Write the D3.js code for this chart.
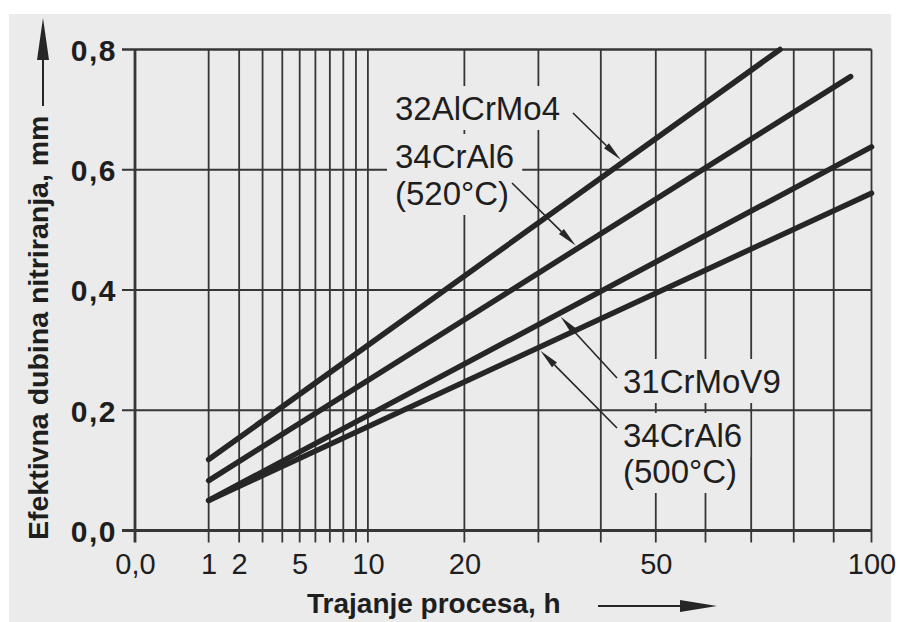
<!DOCTYPE html>
<html>
<head>
<meta charset="utf-8">
<script src="https://cdn.jsdelivr.net/npm/d3@7"></script>
<style>
  html, body { margin: 0; padding: 0; background: #ffffff; }
  svg { display: block; }
  text { font-family: "Liberation Sans", Arial, Helvetica, sans-serif; fill: #1e1e1e; }
</style>
</head>
<body>
<svg id="chart" width="900" height="622"></svg>
<script>
// ---------------- data ----------------
const xGridHours = [0, 1, 2, 3, 4, 5, 6, 7, 8, 9, 10, 20, 30, 40, 50, 60, 70, 80, 90, 100];
const xTickHours = [0, 1, 2, 5, 10, 20, 50, 100];
const xTickLabels = ["0,0", "1", "2", "5", "10", "20", "50", "100"];
const yTickValues = [0, 0.2, 0.4, 0.6, 0.8];
const yTickLabels = ["0,0", "0,2", "0,4", "0,6", "0,8"];

const seriesNames = ["32AlCrMo4", "34CrAl6 (520°C)", "31CrMoV9", "34CrAl6 (500°C)"];
const hours32AlCrMo4 = [1, 76.7];
const depth32AlCrMo4 = [0.118, 0.8];
const hours34CrAl6_520 = [1, 94.4];
const depth34CrAl6_520 = [0.083, 0.755];
const hours31CrMoV9 = [1, 100];
const depth31CrMoV9 = [0.05, 0.638];
const hours34CrAl6_500 = [1, 100];
const depth34CrAl6_500 = [0.05, 0.561];

const xTitle = "Trajanje procesa, h";
const yTitle = "Efektivna dubina nitriranja, mm";

// ---------------- setup ----------------
const svg = d3.select("#chart");
const W = 900, H = 622;
const bg = "#ebebeb";
const ink = "#262626";

svg.append("rect").attr("x", 9).attr("y", 14).attr("width", 882).attr("height", H - 14).attr("fill", bg);

const x = d3.scaleSqrt().domain([0, 100]).range([135, 871.5]);
const y = d3.scaleLinear().domain([0, 0.8]).range([530.5, 49.5]);

const series = [
  { name: seriesNames[0], h: hours32AlCrMo4, d: depth32AlCrMo4 },
  { name: seriesNames[1], h: hours34CrAl6_520, d: depth34CrAl6_520 },
  { name: seriesNames[2], h: hours31CrMoV9, d: depth31CrMoV9 },
  { name: seriesNames[3], h: hours34CrAl6_500, d: depth34CrAl6_500 }
].map(s => ({ name: s.name, pts: s.h.map((h, i) => ({ h, v: s.d[i] })) }));

// ---------------- grid ----------------
const grid = svg.append("g");
grid.selectAll("line.v").data(xGridHours).join("line")
  .attr("x1", d => x(d)).attr("x2", d => x(d))
  .attr("y1", y(0.8)).attr("y2", y(0) + 12)
  .attr("stroke", "#363636").attr("stroke-width", d => d === 0 ? 2.8 : 1.8);
grid.selectAll("line.h").data(yTickValues).join("line")
  .attr("x1", x(0) - 13).attr("x2", x(100))
  .attr("y1", d => y(d)).attr("y2", d => y(d))
  .attr("stroke", "#363636").attr("stroke-width", d => d === 0 ? 3 : (d === 0.8 ? 2.3 : 1.8));

// axes tick labels via d3 axes (domain hidden)
const xAxis = d3.axisBottom(x).tickValues(xTickHours).tickSize(0).tickPadding(0)
  .tickFormat((d, i) => xTickLabels[i]);
const gx = svg.append("g").attr("transform", `translate(0,${y(0)})`).call(xAxis);
gx.select(".domain").remove();
gx.selectAll("text").attr("y", 43).attr("dy", 0)
  .style("font-size", "29px").style("font-family", '"Liberation Sans", Arial, sans-serif')
  .attr("fill", "#333");

const yAxis = d3.axisLeft(y).tickValues(yTickValues).tickSize(0).tickPadding(0)
  .tickFormat((d, i) => yTickLabels[i]);
const gy = svg.append("g").attr("transform", `translate(${x(0)},0)`).call(yAxis);
gy.select(".domain").remove();
gy.selectAll("text").attr("x", -18).attr("dy", "0.36em")
  .style("font-size", "30px").style("font-weight", "bold").style("letter-spacing", "1.5px")
  .style("font-family", '"Liberation Sans", Arial, sans-serif')
  .attr("fill", "#333");

// ---------------- labels (masks first) ----------------
const maskLayer = svg.append("g");
const lineLayer = svg.append("g");
const textLayer = svg.append("g");

const labelLines = [
  { text: "32AlCrMo4", x: 395, y: 120 },
  { text: "34CrAl6", x: 395, y: 168 },
  { text: "(520°C)", x: 395, y: 205 },
  { text: "31CrMoV9", x: 623, y: 393 },
  { text: "34CrAl6", x: 623, y: 447 },
  { text: "(500°C)", x: 623, y: 483 }
];
labelLines.forEach(l => {
  const t = textLayer.append("text").attr("x", l.x).attr("y", l.y)
    .style("font-size", "33px").attr("fill", "#222").text(l.text);
  const b = t.node().getBBox();
  maskLayer.append("rect").attr("x", b.x - 8).attr("y", b.y - 4)
    .attr("width", b.width + 16).attr("height", b.height + 7).attr("fill", bg);
});

// ---------------- series lines ----------------
const lineGen = d3.line().x(d => x(d.h)).y(d => y(d.v));
lineLayer.selectAll("path").data(series).join("path")
  .attr("d", d => lineGen(d.pts))
  .attr("fill", "none").attr("stroke", ink).attr("stroke-width", 5.5)
  .attr("stroke-linecap", "round");

// ---------------- leader arrows ----------------
function valueAt(s, h) {
  const p = s.pts;
  const a = p[0], b = p[p.length - 1];
  const f = (Math.sqrt(h) - Math.sqrt(a.h)) / (Math.sqrt(b.h) - Math.sqrt(a.h));
  return a.v + f * (b.v - a.v);
}
const leaders = [
  { series: 0, tail: [573, 113], tipHour: 43.5, side: -1 },
  { series: 1, tail: [512, 183], tipHour: 35.8, side: -1 },
  { series: 2, tail: [617, 378], tipHour: 33.4, side: 1 },
  { series: 3, tail: [617, 428], tipHour: 30.3, side: 1 }
];
function arrow(g, x1, y1, x2, y2, L, Wd, sw) {
  const ang = Math.atan2(y2 - y1, x2 - x1);
  const bx = x2 - L * Math.cos(ang), by = y2 - L * Math.sin(ang);
  g.append("line").attr("x1", x1).attr("y1", y1).attr("x2", bx).attr("y2", by)
    .attr("stroke", ink).attr("stroke-width", sw);
  const px = -Math.sin(ang) * Wd / 2, py = Math.cos(ang) * Wd / 2;
  g.append("path").attr("d", `M${x2},${y2}L${bx + px},${by + py}L${bx - px},${by - py}Z`).attr("fill", ink);
}
const leaderLayer = svg.append("g");
leaders.forEach(l => {
  const s = series[l.series];
  const tx = x(l.tipHour);
  const ty = y(valueAt(s, l.tipHour)) + l.side * 4;
  arrow(leaderLayer, l.tail[0], l.tail[1], tx, ty, 20, 7, 1.6);
});

// ---------------- axis titles ----------------
svg.append("text").attr("x", 307).attr("y", 613)
  .style("font-size", "28px").style("font-weight", "bold").attr("fill", "#1a1a1a").text(xTitle);
arrow(svg, 598, 606, 717, 606, 37, 12, 2);

svg.append("text").attr("transform", "translate(48,540) rotate(-90)")
  .style("font-size", "28.5px").style("font-weight", "bold").attr("fill", "#1a1a1a").text(yTitle);
arrow(svg, 43, 106, 43, 18, 42, 12, 2);
</script>
</body>
</html>
